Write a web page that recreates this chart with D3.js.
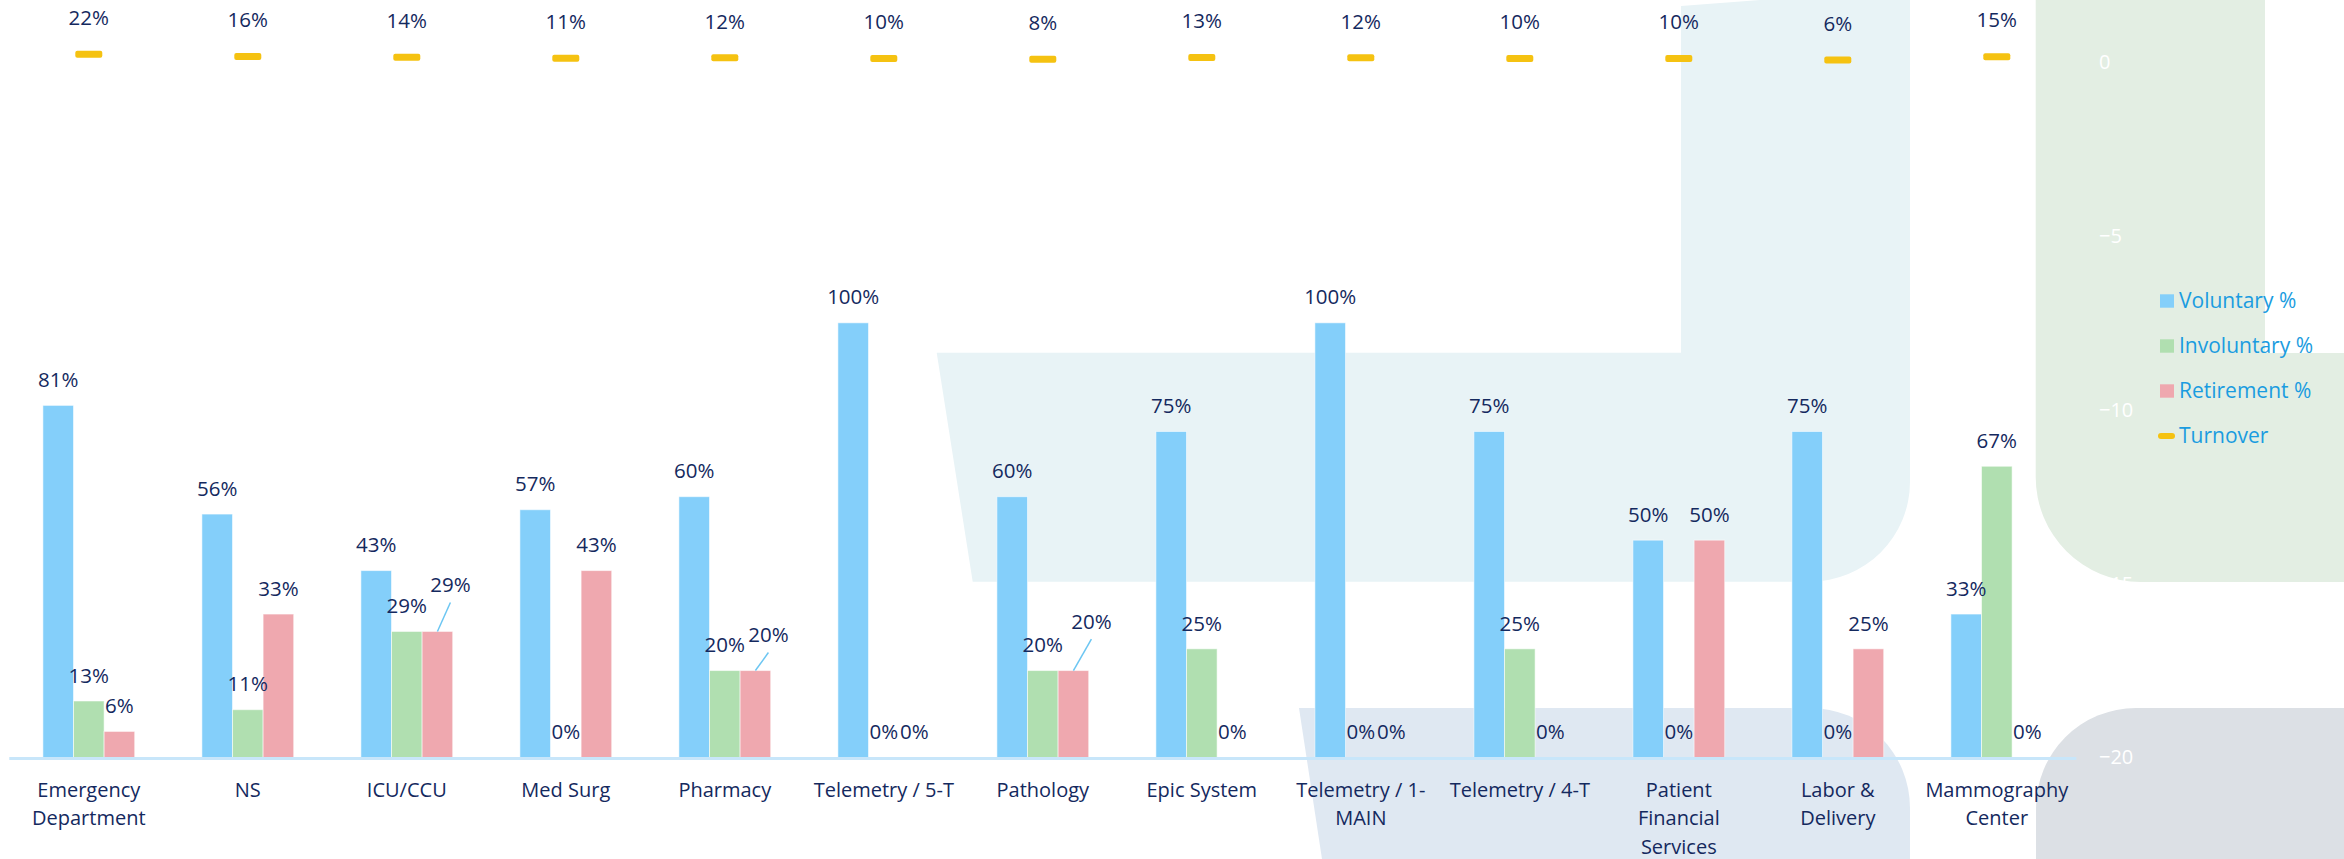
<!DOCTYPE html>
<html><head><meta charset="utf-8">
<script src="https://cdn.jsdelivr.net/npm/d3@7"></script>
<style>
html,body{margin:0;padding:0;background:#fff;}
svg{display:block;font-family:"Open Sans",sans-serif;}
</style>
</head><body>
<svg id="chart" width="2344" height="859"></svg>
<script>
// ---------- data ----------
const categories = ["Emergency\nDepartment","NS","ICU/CCU","Med Surg","Pharmacy","Telemetry / 5-T","Pathology","Epic System","Telemetry / 1-\nMAIN","Telemetry / 4-T","Patient\nFinancial\nServices","Labor &\nDelivery","Mammography\nCenter"];
const seriesNames = ["Voluntary %","Involuntary %","Retirement %"];
const voluntary   = [81,56,43,57,60,100,60,75,100,75,50,75,33];
const involuntary = [13,11,29,0,20,0,20,25,0,25,0,0,67];
const retirement  = [6,33,29,43,20,0,20,0,0,0,50,25,0];
const turnover    = [22,16,14,11,12,10,8,13,12,10,10,6,15];
const rightTicks  = [0,-5,-10,-15,-20];

// ---------- styles ----------
const colors = {"Voluntary %":"#84CFFA","Involuntary %":"#B0DFB0","Retirement %":"#EFA8AF"};
const turnoverColor = "#F5C211";
const labelColor = "#14295E";
const legendColor = "#1A9CE0";
// manual data-label nudges (dx, dy) with leader lines
const labelNudges = {"ICU/CCU|Retirement %":[13,-21],"Pharmacy|Retirement %":[13,-10],"Pathology|Retirement %":[18,-23.5]};

const svg = d3.select("#chart");

// ---------- background decorative shapes ----------
const bg = svg.append("g");
bg.append("path").attr("fill","#E8F3F6")
  .attr("d","M936.7,352.7 L1681,352.7 L1681,6 L1760,0 L1910,0 L1910,481.7 A100,100 0 0 1 1810,581.7 L972.7,581.7 Z");
bg.append("path").attr("fill","#E3EEE3")
  .attr("d","M2035.7,0 L2265,0 L2265,353 L2344,353 L2344,582 L2140.7,582 A105,105 0 0 1 2035.7,477 Z");
bg.append("path").attr("fill","#DFE8F2")
  .attr("d","M1299,708 L1810,708 A100,100 0 0 1 1910,808 L1910,859 L1322,859 Z");
bg.append("path").attr("fill","#DCE0E5")
  .attr("d","M2036,859 L2036,808 A100,100 0 0 1 2136,708 L2344,708 L2344,859 Z");

// ---------- scales ----------
const x = d3.scaleBand().domain(categories).range([9.3,2076.3]).paddingInner(0).paddingOuter(0);
const barW = x.bandwidth()*0.1925;
const xs = d3.scaleBand().domain(seriesNames).range([-1.5*barW,1.5*barW]);
const y = d3.scaleLinear().domain([0,1.6]).range([757.5,62]);
const y2 = d3.scaleLinear().domain([-20,0]).range([757.5,62]);

// right axis (white labels)
const yAxisR = d3.axisRight(y2).tickValues(rightTicks).tickSize(0).tickPadding(0);
const gR = svg.append("g").attr("transform","translate(2099,0)").call(yAxisR);
gR.select(".domain").remove();
gR.selectAll("text").attr("fill","#FFFFFF").style("font-size","20px").style("font-family","'Open Sans',sans-serif");

// ---------- bars ----------
const rows = categories.map((c,i)=>({cat:c, vals:[
  {s:"Voluntary %", v:voluntary[i]/100},
  {s:"Involuntary %", v:involuntary[i]/100},
  {s:"Retirement %", v:retirement[i]/100}]}));

const groups = svg.append("g").selectAll("g").data(rows).join("g")
  .attr("transform",d=>`translate(${x(d.cat)+x.bandwidth()/2},0)`);

groups.selectAll("rect").data(d=>d.vals).join("rect")
  .attr("x",d=>xs(d.s)).attr("width",xs.bandwidth())
  .attr("y",d=>y(d.v)).attr("height",d=>y(0)-y(d.v))
  .attr("fill",d=>colors[d.s])
  .attr("stroke","rgba(255,255,255,0.55)").attr("stroke-width",1);

// baseline
svg.append("line").attr("x1",9.3).attr("x2",2076.3).attr("y1",y(0)+1).attr("y2",y(0)+1)
  .attr("stroke","#C8E6FA").attr("stroke-width",3);

// data labels
groups.each(function(d){
  const g = d3.select(this);
  const catName = d.cat.split("\n")[0];
  d.vals.forEach(v=>{
    const cx = xs(v.s)+xs.bandwidth()/2;
    const top = y(v.v);
    const key = catName+"|"+v.s;
    const nud = labelNudges[key] || [0,0];
    const lx = cx+nud[0], ly = top-25.5+nud[1];
    if(labelNudges[key]){
      g.append("line").attr("x1",lx).attr("y1",ly+17.5).attr("x2",cx).attr("y2",top)
        .attr("stroke","#6CC6F2").attr("stroke-width",1.5);
    }
    g.append("text").attr("x",lx).attr("y",ly).attr("dy","0.35em")
      .attr("text-anchor","middle").attr("fill",labelColor).style("font-size","20.5px")
      .text(Math.round(v.v*100)+"%");
  });
});

// category labels
const xAxis = svg.append("g");
categories.forEach(c=>{
  const lines = c.split("\n");
  const t = xAxis.append("text").attr("text-anchor","middle").attr("fill",labelColor)
    .style("font-size","20px");
  lines.forEach((ln,j)=>{
    t.append("tspan").attr("x",x(c)+x.bandwidth()/2).attr("y",789.5+j*28.5).attr("dy","0.35em").text(ln);
  });
});

// ---------- turnover markers ----------
const tg = svg.append("g");
categories.forEach((c,i)=>{
  const cx = x(c)+x.bandwidth()/2;
  const ty = y2(turnover[i]/100);
  tg.append("rect").attr("x",cx-13.5).attr("y",ty-3.5).attr("width",27).attr("height",7)
    .attr("rx",2).attr("fill",turnoverColor);
  tg.append("text").attr("x",cx).attr("y",ty-36.5).attr("dy","0.35em").attr("text-anchor","middle")
    .attr("fill",labelColor).style("font-size","20.5px").text(turnover[i]+"%");
});

// ---------- legend ----------
const legendItems = seriesNames.concat(["Turnover"]);
const lg = svg.append("g");
legendItems.forEach((name,i)=>{
  const cy = 301 + i*45;
  if(name==="Turnover"){
    lg.append("line").attr("x1",2161).attr("x2",2172).attr("y1",cy).attr("y2",cy)
      .attr("stroke",turnoverColor).attr("stroke-width",6).attr("stroke-linecap","round");
  } else {
    lg.append("rect").attr("x",2160).attr("y",cy-6.7).attr("width",14).attr("height",13.4).attr("fill",colors[name]);
  }
  lg.append("text").attr("x",2179).attr("y",cy).attr("dy","0.35em").attr("fill",legendColor)
    .style("font-size","21px").text(name);
});
</script>
</body></html>
